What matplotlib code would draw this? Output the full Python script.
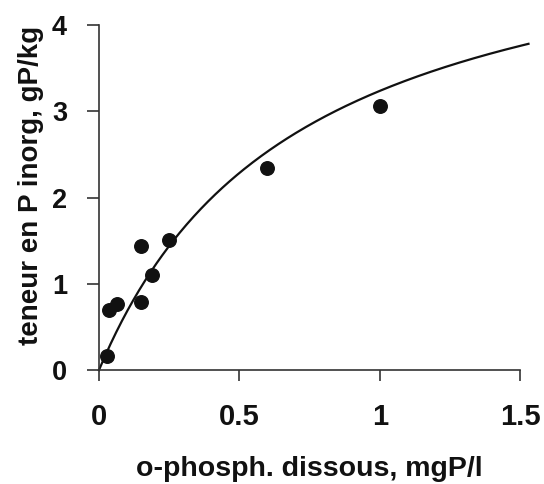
import matplotlib.pyplot as plt
import numpy as np

# measured points: dissolved o-phosphate (mgP/l) vs inorganic P content (gP/kg)
conc = [0.03, 0.035, 0.065, 0.15, 0.15, 0.19, 0.25, 0.60, 1.00]
p_inorg = [0.16, 0.70, 0.77, 1.44, 0.79, 1.10, 1.51, 2.34, 3.06]

# Langmuir fit parameters
q_max = 5.55
k_l = 1.4

plt.rcParams['font.family'] = ['Liberation Sans', 'DejaVu Sans']
plt.rcParams['font.weight'] = 'bold'

fig = plt.figure(figsize=(5.44, 4.84), dpi=100)
ax = fig.add_axes([0.182, 0.2355, 0.774, 0.7125])

c = np.linspace(0, 1.53, 300)
ax.plot(c, q_max * k_l * c / (1 + k_l * c), color='#111111', lw=1.6, clip_on=False)
ax.scatter(conc, p_inorg, s=95, color='#111111', zorder=3, clip_on=False)

ax.set_xlim(0, 1.5)
ax.set_ylim(0, 4)
ax.set_xticks([0, 0.5, 1, 1.5])
ax.set_xticklabels(['0', '0.5', '1', '1.5'])
ax.set_yticks([0, 1, 2, 3, 4])

for s in ['top', 'right']:
    ax.spines[s].set_visible(False)
for s in ['left', 'bottom']:
    ax.spines[s].set_linewidth(1.2)
    ax.spines[s].set_color('#333333')

ax.tick_params(axis='x', direction='out', length=8, width=1.2, pad=16, labelsize=21, colors='#333333', labelcolor='#111111')
ax.tick_params(axis='y', direction='out', length=9, width=1.2, pad=14, labelsize=19.5, colors='#333333', labelcolor='#111111')

ax.set_xlabel('o-phosph. dissous, mgP/l', fontsize=20.5, fontweight='bold', labelpad=18, color='#111111')
ax.set_ylabel('teneur en P inorg, gP/kg', fontsize=20, fontweight='bold', color='#111111')
ax.yaxis.set_label_coords(-0.131, 0.536)

fig.savefig('out.png', dpi=100)
